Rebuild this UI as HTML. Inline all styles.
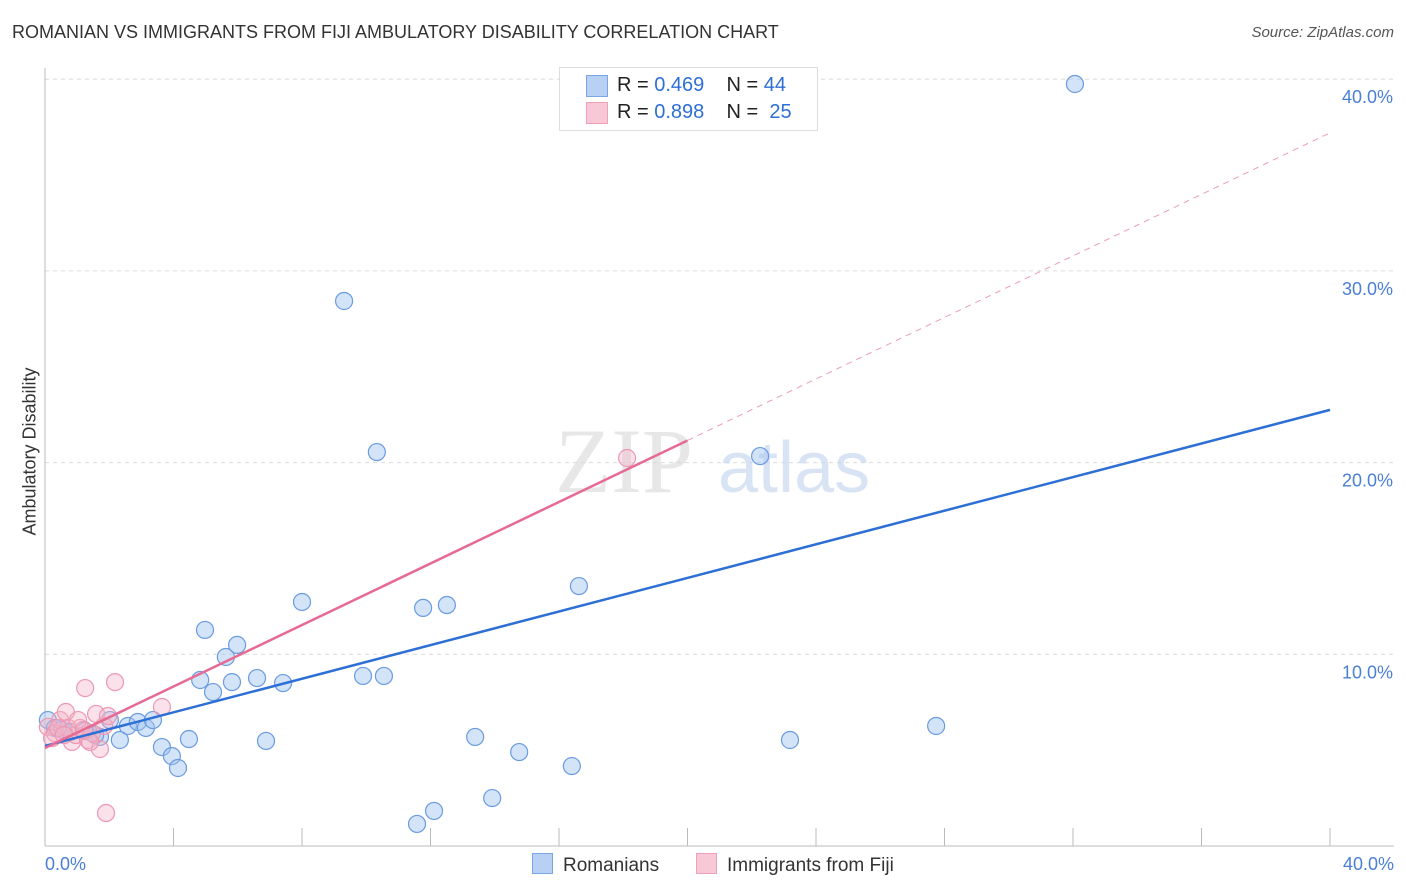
<!DOCTYPE html>
<html><head><meta charset="utf-8">
<style>
body{margin:0;background:#fff;font-family:"Liberation Sans",sans-serif;}
#wrap{position:relative;width:1406px;height:892px;overflow:hidden;}
.t{position:absolute;white-space:nowrap;}
</style></head>
<body>
<div id="wrap">
<div class="t" style="left:12px;top:22px;font-size:18px;color:#333;">ROMANIAN VS IMMIGRANTS FROM FIJI AMBULATORY DISABILITY CORRELATION CHART</div>
<div class="t" style="right:12px;top:24px;font-size:15px;color:#555;font-style:italic;">Source: ZipAtlas.com</div>
<div class="t" style="left:-50px;top:445px;font-size:18px;color:#333;transform:rotate(-90deg);width:160px;text-align:center;">Ambulatory Disability</div>
<svg id="svg" width="1406" height="892" style="position:absolute;left:0;top:0"></svg>
</div>
<script>
const blueX=[0.09,0.31,0.53,0.78,1.25,1.71,2.02,2.33,2.58,2.89,3.14,3.36,3.64,3.95,4.14,4.48,4.83,4.98,5.23,5.63,5.82,5.98,6.60,6.88,7.41,8.00,9.31,9.90,10.33,10.55,11.58,11.77,12.11,12.51,13.39,13.92,14.76,16.40,16.62,22.26,23.19,27.74,32.06,1.56];
const blueY=[6.57,6.16,6.06,5.95,6.0,5.69,6.57,5.53,6.26,6.47,6.16,6.57,5.16,4.69,4.07,5.58,8.66,11.27,8.03,9.86,8.55,10.49,8.76,5.48,8.50,12.73,28.43,8.87,20.55,8.87,1.15,12.42,1.83,12.57,5.69,2.50,4.90,4.17,13.56,20.34,5.53,6.26,39.75,5.79];
const pinkX=[0.09,0.31,0.47,0.65,0.84,0.96,1.09,1.25,1.34,1.46,1.59,1.71,1.84,1.96,2.18,3.64,18.12,1.90,0.22,0.72,1.03,1.40,0.40,1.21,0.59];
const pinkY=[6.21,5.89,6.57,6.99,5.43,5.79,6.16,8.24,5.53,5.89,6.89,5.06,6.26,6.78,8.55,7.25,20.24,1.72,5.63,6.16,6.57,5.43,6.16,6.05,5.79];
const yTicks=[10,20,30,40];
const xTicks=[4,8,12,16,20,24,28,32,36,40];
const blueLine=[5.22,22.75]; // y at x=0 and x=40
const pinkLine=[5.11,37.2];  // y at x=0 and x=40
const pinkSolidEnd=20;

const X=v=>45+v*1285/40;
const Y=v=>846-v*19.17;
const svg=document.getElementById('svg');
const NS='http://www.w3.org/2000/svg';
function mk(tag,attrs){const e=document.createElementNS(NS,tag);for(const k in attrs)e.setAttribute(k,attrs[k]);svg.appendChild(e);return e;}

// gridlines
yTicks.forEach(t=>{
  const g=mk('line',{x1:45,x2:1394,y1:Y(t),y2:Y(t),stroke:'#dcdcdc','stroke-dasharray':'4,4'});
  
  
  const l=mk('text',{x:1393,y:Y(t)+24,'text-anchor':'end','font-size':18,fill:'#4a7fd6','font-family':'Liberation Sans'});
  l.textContent=t.toFixed(1)+'%';
  
  
});
// axes
const ax=mk('line',{x1:45,x2:45,y1:68,y2:846,stroke:'#bbb'});


const bx=mk('line',{x1:45,x2:1394,y1:846,y2:846,stroke:'#bbb'});


xTicks.forEach(t=>{
  const k=mk('line',{x1:X(t),x2:X(t),y1:828,y2:846,stroke:'#bbb'});
  
  
});
const x0=mk('text',{x:45,y:870,'font-size':18,fill:'#4a7fd6','font-family':'Liberation Sans'});x0.textContent='0.0%';


const x1=mk('text',{x:1394,y:870,'text-anchor':'end','font-size':18,fill:'#4a7fd6','font-family':'Liberation Sans'});x1.textContent='40.0%';



// watermark
const w1=mk('text',{x:555,y:492,'font-size':92,fill:'#d8d8d8','font-family':'Liberation Serif','opacity':0.6});w1.textContent='ZIP';


const w2=mk('text',{x:718,y:492,'font-size':72,fill:'#c8d8f0','font-family':'Liberation Sans','opacity':0.7});w2.textContent='atlas';



// points
blueX.forEach((v,i)=>{
  const c=mk('circle',{cx:X(v),cy:Y(blueY[i]),r:8.5,fill:'rgba(160,195,240,0.45)',stroke:'#6a9be0','stroke-width':1.2});
  
  
});
pinkX.forEach((v,i)=>{
  const c=mk('circle',{cx:X(v),cy:Y(pinkY[i]),r:8.5,fill:'rgba(245,180,200,0.4)',stroke:'#ec98b2','stroke-width':1.2});
  
  
});
// trend lines
const bl=mk('line',{x1:X(0),y1:Y(blueLine[0]),x2:X(40),y2:Y(blueLine[1]),stroke:'#2e6fd6','stroke-width':2.5});


const py=x=>pinkLine[0]+(pinkLine[1]-pinkLine[0])*x/40;
const pl=mk('line',{x1:X(0),y1:Y(py(0)),x2:X(pinkSolidEnd),y2:Y(py(pinkSolidEnd)),stroke:'#e66a93','stroke-width':2.5});


const pd=mk('line',{x1:X(pinkSolidEnd),y1:Y(py(pinkSolidEnd)),x2:X(40),y2:Y(py(40)),stroke:'#eaa0b8','stroke-width':1,'stroke-dasharray':'6,5'});


</script>

<div class="t" style="left:559px;top:67px;width:257px;height:62px;border:1px solid #ddd;background:#fff;"></div>
<div class="t" style="left:586px;top:75px;width:20px;height:20px;background:#b7d0f3;border:1px solid #7aa6e6;"></div>
<div class="t" style="left:586px;top:102px;width:20px;height:20px;background:#f9c8d6;border:1px solid #eea0b8;"></div>
<div class="t" style="left:617px;top:74px;font-size:20px;color:#222;">R = <span style="color:#2e6fd6">0.469</span>&nbsp;&nbsp;&nbsp; N = <span style="color:#2e6fd6">44</span></div>
<div class="t" style="left:617px;top:101px;font-size:20px;color:#222;">R = <span style="color:#2e6fd6">0.898</span>&nbsp;&nbsp;&nbsp; N = &nbsp;<span style="color:#2e6fd6">25</span></div>

<div class="t" style="left:532px;top:853px;font-size:19px;color:#333;"><span style="display:inline-block;width:19px;height:19px;background:#b7d0f3;border:1px solid #7aa6e6;vertical-align:-3px;margin-right:10px;"></span>Romanians</div>
<div class="t" style="left:696px;top:853px;font-size:19px;color:#333;"><span style="display:inline-block;width:19px;height:19px;background:#f9c8d6;border:1px solid #eea0b8;vertical-align:-3px;margin-right:10px;"></span>Immigrants from Fiji</div>
</body></html>
